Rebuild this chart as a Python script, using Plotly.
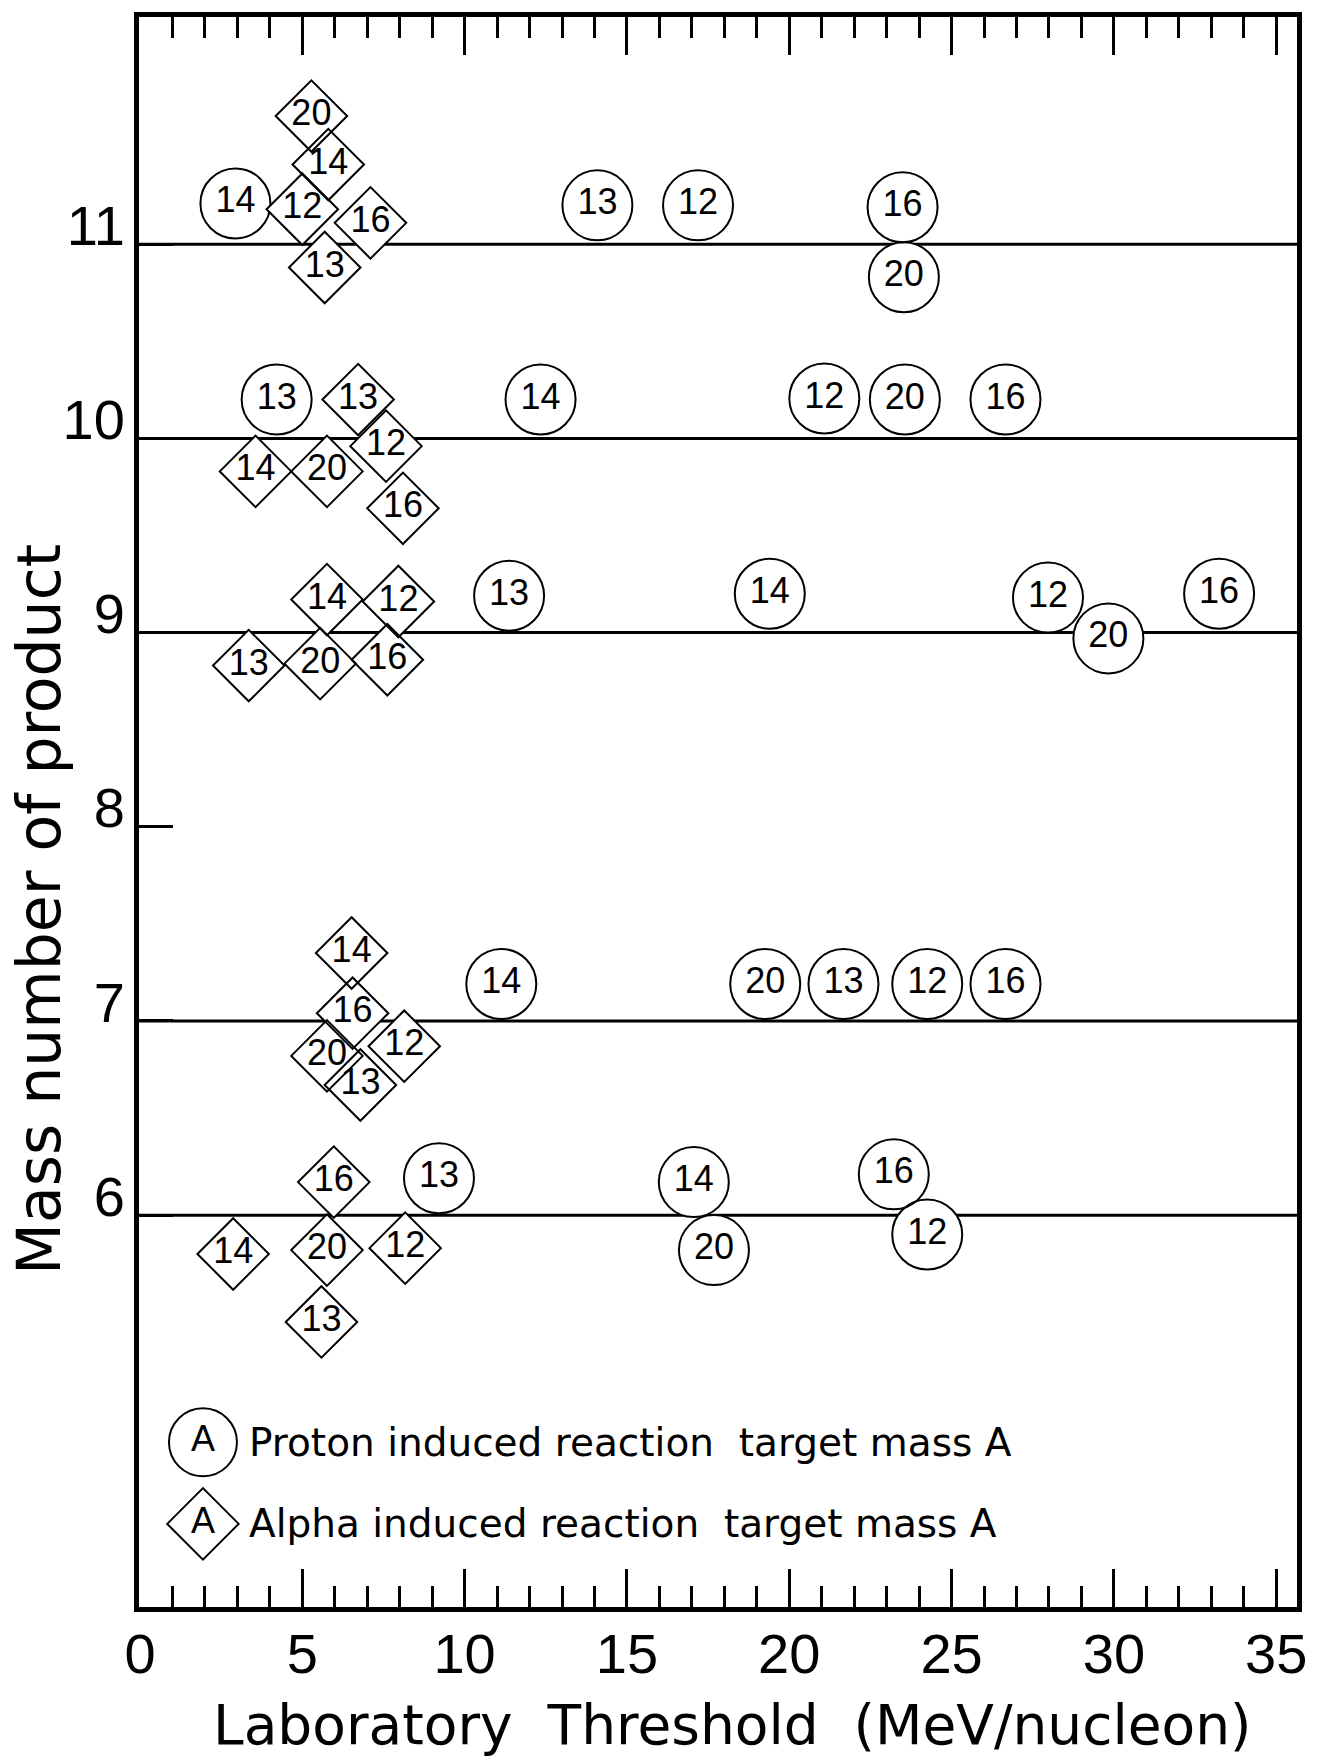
import plotly.graph_objects as go

# Proton induced reactions: laboratory threshold (MeV/nucleon), plotted row height, target mass A
proton_threshold = [2.94, 14.09, 17.19, 23.49, 23.53,
                    4.21, 12.34, 21.08, 23.56, 26.66,
                    11.37, 19.40, 27.97, 29.83, 33.24,
                    11.13, 19.26, 21.67, 24.25, 26.66,
                    9.21, 17.06, 23.22, 24.25, 17.68]
proton_y = [11.21, 11.20, 11.20, 11.19, 10.83,
            10.20, 10.20, 10.205, 10.20, 10.20,
            9.19, 9.20, 9.18, 8.97, 9.20,
            7.19, 7.19, 7.19, 7.19, 7.19,
            6.19, 6.17, 6.21, 5.90, 5.82]
proton_target = [14, 13, 12, 16, 20,
                 13, 14, 12, 20, 16,
                 13, 14, 12, 20, 16,
                 14, 20, 13, 12, 16,
                 13, 14, 16, 12, 20]

# Alpha induced reactions
alpha_threshold = [5.28, 5.80, 5.00, 7.10, 5.69,
                   6.72, 3.56, 5.76, 7.58, 8.10,
                   5.76, 7.96, 3.35, 5.55, 7.62,
                   6.52, 6.55, 8.14, 5.76, 6.79,
                   5.97, 2.87, 5.76, 8.17, 5.59]
alpha_y = [11.66, 11.41, 11.18, 11.11, 10.88,
           10.20, 9.83, 9.83, 9.96, 9.64,
           9.17, 9.16, 8.83, 8.84, 8.86,
           7.35, 7.04, 6.87, 6.82, 6.67,
           6.17, 5.80, 5.82, 5.83, 5.45]
alpha_target = [20, 14, 12, 16, 13,
                13, 14, 20, 12, 16,
                14, 12, 13, 20, 16,
                14, 16, 12, 20, 13,
                16, 14, 20, 12, 13]

# Product masses drawn as full-width reference lines
product_levels = [6, 7, 9, 10, 11]
y_tick_values = [6, 7, 8, 9, 10, 11]
x_tick_values = [0, 5, 10, 15, 20, 25, 30, 35]

# Key entries
key_x = [1.94, 1.94]
key_y = [4.83, 4.41]
key_text_x = 3.3
key_labels = ["Proton induced reaction  target mass A",
              "Alpha induced reaction  target mass A"]

DIGITS = "Liberation Sans, Arial, sans-serif"
WORDS = "DejaVu Sans, Verdana, sans-serif"
CIRCLE_SIZE = 70
DIAMOND_SIZE = 55

fig = go.Figure()


def add_marks(xs, ys, labels, symbol, size):
    # white body first so the reference lines are hidden behind each mark
    fig.add_trace(go.Scatter(
        x=xs, y=ys, mode="markers", hoverinfo="skip", showlegend=False,
        marker=dict(symbol=symbol, size=size, color="white",
                    line=dict(width=0))))
    # outline and number on top, so overlapping outlines stay visible
    fig.add_trace(go.Scatter(
        x=xs, y=ys, mode="markers+text", hoverinfo="skip", showlegend=False,
        text=[str(v) for v in labels], textposition="middle center",
        textfont=dict(family=DIGITS, size=36, color="black"),
        marker=dict(symbol=symbol + "-open", size=size, color="black",
                    line=dict(width=2, color="black"))))


add_marks(proton_threshold, proton_y, proton_target, "circle", CIRCLE_SIZE)
add_marks(alpha_threshold, alpha_y, alpha_target, "diamond", DIAMOND_SIZE)
add_marks(key_x[:1], key_y[:1], ["A"], "circle", 68)
add_marks(key_x[1:], key_y[1:], ["A"], "diamond", DIAMOND_SIZE)

for yk, txt in zip(key_y, key_labels):
    fig.add_annotation(x=key_text_x, y=yk, xref="x", yref="y", text=txt,
                       showarrow=False, xanchor="left", yanchor="middle",
                       font=dict(family=WORDS, size=39, color="black"))

for lv in product_levels:
    fig.add_shape(type="line", xref="paper", x0=0, x1=1, yref="y", y0=lv, y1=lv,
                  line=dict(color="black", width=3), layer="below")

fig.update_xaxes(
    range=[-0.03, 35.64], showgrid=False, zeroline=False,
    showline=True, linewidth=5, linecolor="black", mirror="allticks",
    ticks="inside", ticklen=38, tickwidth=2.5, tickcolor="black",
    tickvals=x_tick_values, ticktext=[str(v) for v in x_tick_values],
    tickfont=dict(family=DIGITS, size=56, color="black"),
    ticklabelstandoff=-6,
    minor=dict(dtick=1, ticks="inside", ticklen=21, tickwidth=2.5,
               tickcolor="black", showgrid=False),
)
fig.update_yaxes(
    range=[3.982, 12.17], showgrid=False, zeroline=False,
    showline=True, linewidth=5, linecolor="black", mirror=True,
    ticks="inside", ticklen=34, tickwidth=2.5, tickcolor="black",
    tickvals=y_tick_values, ticktext=[str(v) for v in y_tick_values],
    tickfont=dict(family=DIGITS, size=56, color="black"),
    ticklabelstandoff=-2, ticklabelshift=-19,
)

fig.add_annotation(text="Laboratory  Threshold  (MeV/nucleon)", xref="paper", yref="paper",
                   x=0.5125, y=-0.0745, xanchor="center", yanchor="middle",
                   showarrow=False, font=dict(family=WORDS, size=55, color="black"))
fig.add_annotation(text="Mass number of product", xref="paper", yref="paper",
                   x=-0.086, y=0.4387, xanchor="center", yanchor="middle", textangle=-90,
                   showarrow=False, font=dict(family=WORDS, size=60, color="black"))

fig.update_layout(
    width=1319, height=1760,
    margin=dict(l=139, r=17, t=16, b=153),
    paper_bgcolor="white", plot_bgcolor="white",
    showlegend=False,
)

fig.write_html("out.html")
